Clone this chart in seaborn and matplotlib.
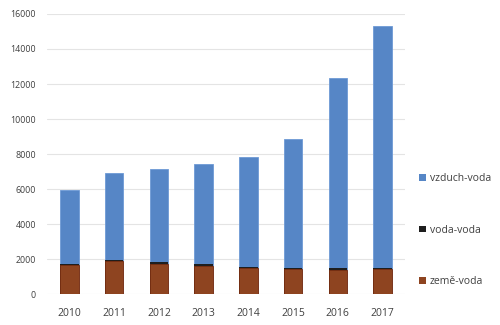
import matplotlib
matplotlib.use("Agg")
import matplotlib.pyplot as plt
from matplotlib.patches import Patch
import seaborn as sns
import pandas as pd

years = ["2010", "2011", "2012", "2013", "2014", "2015", "2016", "2017"]
zeme_voda = [1660, 1880, 1740, 1620, 1470, 1420, 1380, 1420]
voda_voda = [70, 70, 80, 80, 80, 90, 90, 100]
vzduch_voda = [4200, 4940, 5340, 5760, 6280, 7350, 10870, 13810]

labels = ["vzduch-voda", "voda-voda", "země-voda"]
colors = {"vzduch-voda": "#5686C6", "voda-voda": "#1E1E1E", "země-voda": "#8E4420"}

df = pd.DataFrame({"rok": years, "země-voda": zeme_voda,
                   "voda-voda": voda_voda, "vzduch-voda": vzduch_voda})
df["lvl1"] = df["země-voda"]
df["lvl2"] = df["lvl1"] + df["voda-voda"]
df["lvl3"] = df["lvl2"] + df["vzduch-voda"]

sns.set_theme(style="white")
plt.rcParams["font.family"] = ["Open Sans", "DejaVu Sans"]

fig = plt.figure(figsize=(5, 3.25), dpi=100)
ax = fig.add_axes([0.094, 0.095, 0.716, 0.862])

# stacked bars drawn as cumulative layers, tallest first
sns.barplot(data=df, x="rok", y="lvl3", color=colors["vzduch-voda"], width=0.41,
            saturation=1, ax=ax, edgecolor="#6E9AD6", linewidth=0.6)
sns.barplot(data=df, x="rok", y="lvl2", color=colors["voda-voda"], width=0.41,
            saturation=1, ax=ax, linewidth=0)
sns.barplot(data=df, x="rok", y="lvl1", color=colors["země-voda"], width=0.41,
            saturation=1, ax=ax, edgecolor="#7A2E10", linewidth=0.6)

ax.set_ylim(0, 16000)
ax.set_xlim(-0.5, 7.5)
ax.set_yticks(range(0, 16001, 2000))
ax.yaxis.grid(True, color="#E4E4E4", linewidth=0.8)
ax.set_axisbelow(True)
for s in ax.spines.values():
    s.set_visible(False)
ax.set_xlabel("")
ax.set_ylabel("")
ax.tick_params(axis="both", length=0, colors="#404040")
ax.tick_params(axis="y", pad=8, labelsize=6.4)
ax.tick_params(axis="x", pad=10, labelsize=7.5)

handles = [Patch(facecolor=colors[l], edgecolor="none") for l in labels]
fig.legend(handles, labels, loc="center left", bbox_to_anchor=(0.82, 0.292),
           frameon=False, fontsize=7.5, handlelength=0.6, handleheight=0.6,
           handletextpad=0.4, labelspacing=3.9, labelcolor="#404040")

fig.savefig("out.png", dpi=100)
